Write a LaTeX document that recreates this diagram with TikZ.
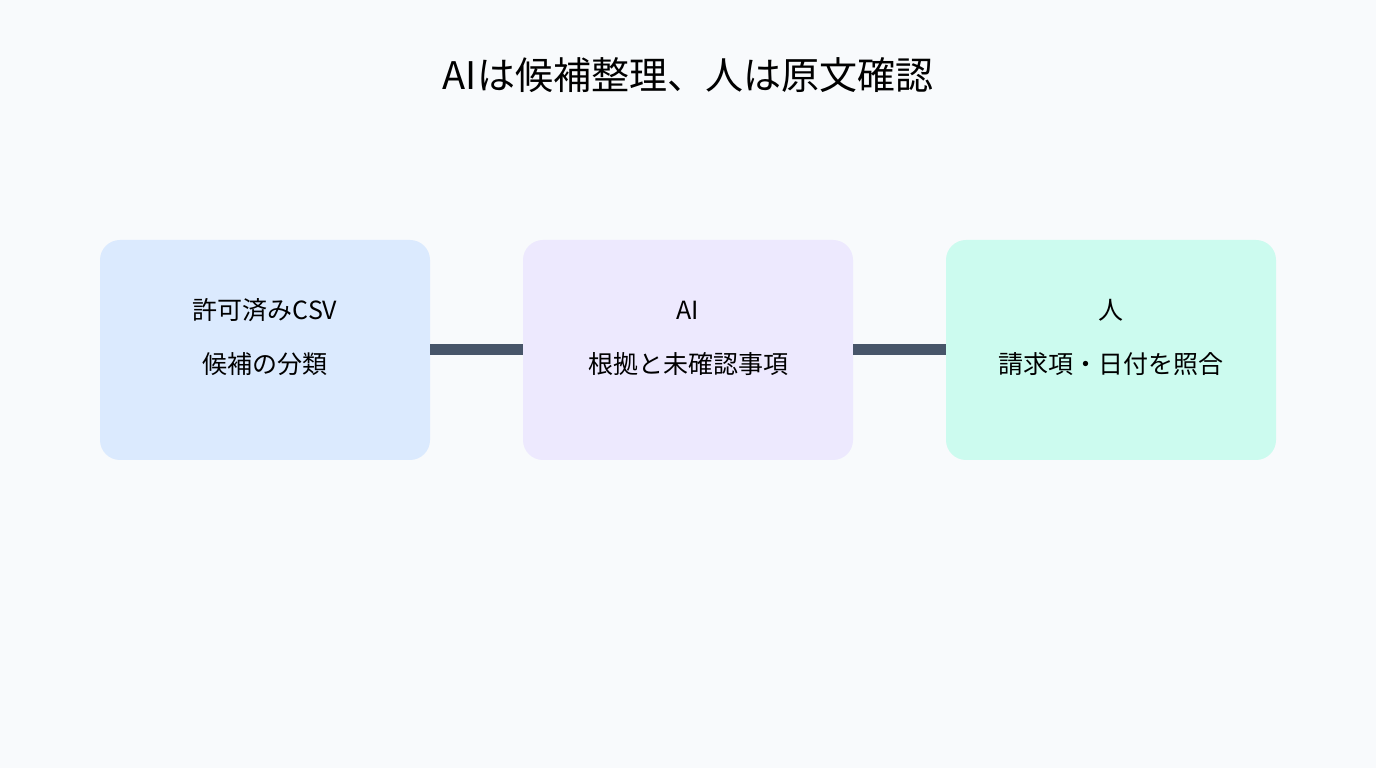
\documentclass[tikz,border=0pt]{standalone}
\usepackage{fontspec}
\setmainfont{Noto Sans CJK JP}
\begin{document}
\begin{tikzpicture}[x=1pt,y=1pt,
 box/.style={rounded corners=20pt,minimum width=330pt,minimum height=220pt,inner sep=0pt,draw=none},
 lbl/.style={font=\fontsize{25}{30}\selectfont,text=black},
 conn/.style={draw=slate,line width=11pt}]
\definecolor{bg}{HTML}{F8FAFC}
\definecolor{slate}{HTML}{475569}
\definecolor{cb}{HTML}{DBEAFE}
\definecolor{cp}{HTML}{EDE9FE}
\definecolor{cg}{HTML}{CCFBEF}
\fill[bg] (0,0) rectangle (1376,768);
\useasboundingbox (0,0) rectangle (1376,768);
\node[font=\fontsize{38}{44}\selectfont] (title) at (688,693) {AIは候補整理、人は原文確認};
\node[box,fill=cb] (a) at (265,418) {};
\node[box,fill=cp] (b) at (688,418) {};
\node[box,fill=cg] (c) at (1111,418) {};
\node[lbl] (a1) at (265,458) {許可済みCSV};
\node[lbl] (a2) at (265,404) {候補の分類};
\node[lbl] (b1) at (688,458) {AI};
\node[lbl] (b2) at (688,404) {根拠と未確認事項};
\node[lbl] (c1) at (1111,458) {人};
\node[lbl] (c2) at (1111,404) {請求項・日付を照合};
\draw[conn] (a.east) -- (b.west);
\draw[conn] (b.east) -- (c.west);
\end{tikzpicture}
\end{document}
